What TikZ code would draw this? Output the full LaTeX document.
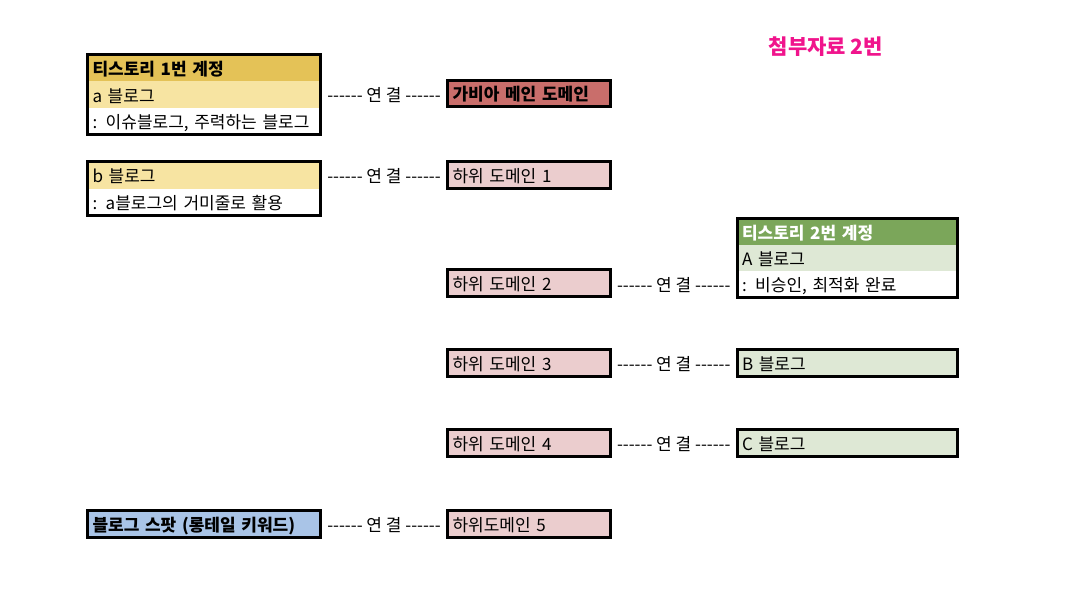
\documentclass[tikz,border=0pt]{standalone}
\usepackage{fontspec}
\setmainfont{Noto Sans CJK KR}[Ligatures=TeXOff]
\usepackage{tikz}

\definecolor{hdrgold}{HTML}{E4C257}
\definecolor{rowgold}{HTML}{F7E4A2}
\definecolor{mainred}{HTML}{C96E6B}
\definecolor{subpink}{HTML}{EBCDCE}
\definecolor{hdrgreen}{HTML}{7BA65A}
\definecolor{rowgreen}{HTML}{DEE8D5}
\definecolor{spotblue}{HTML}{A9C4E7}
\definecolor{titlepink}{HTML}{F0148C}

\begin{document}
\begin{tikzpicture}[x=1pt, y=-1pt,
        cell/.style={anchor=north west, inner xsep=5pt, inner ysep=0pt, outer sep=0pt,
            text height=15pt, text depth=0pt, font=\fontsize{17}{20}\selectfont},
        wide/.style={cell, text width=223pt},
        mid/.style={cell, text width=153pt},
        right/.style={cell, text width=210pt},
        frame/.style={line width=3pt},
        link/.style={font=\fontsize{17}{20}\selectfont, inner sep=0pt, text height=15pt, text depth=0pt}]
                \useasboundingbox (0, 0) rectangle (1074, 599);

                \node[text=titlepink, font=\fontsize{21}{25}\selectfont\bfseries] (title) at (826, 47) {첨부자료 2번};

                % left column
                \node[wide, fill=hdrgold, minimum height=27pt, font=\fontsize{17}{20}\selectfont\bfseries] (t1head) at (87.5, 54.5) {티스토리 1번 계정};
                \node[wide, fill=rowgold, minimum height=26.5pt] (t1a) at (87.5, 81.5) {a 블로그};
                \node[wide, fill=white, minimum height=26.5pt] (t1anote) at (87.5, 108) {: 이슈블로그, 주력하는 블로그};
                \draw[frame] (t1head.north west) rectangle (t1anote.south east);

                \node[wide, fill=rowgold, minimum height=27.5pt] (t1b) at (87.5, 161.5) {b 블로그};
                \node[wide, fill=white, minimum height=26.5pt] (t1bnote) at (87.5, 189) {: a블로그의 거미줄로 활용};
                \draw[frame] (t1b.north west) rectangle (t1bnote.south east);

                \node[wide, fill=spotblue, minimum height=27pt, font=\fontsize{17}{20}\selectfont\bfseries] (spot) at (87.5, 510.5) {블로그 스팟 (롱테일 키워드)};
                \draw[frame] (spot.north west) rectangle (spot.south east);

                % domains
                \node[mid, fill=mainred, minimum height=26pt, font=\fontsize{17}{20}\selectfont\bfseries] (gabia) at (447.5, 80.5) {가비아 메인 도메인};
                \node[mid, fill=subpink, minimum height=27pt] (sub1) at (447.5, 161.5) {하위 도메인 1};
                \node[mid, fill=subpink, minimum height=27pt] (sub2) at (447.5, 269.5) {하위 도메인 2};
                \node[mid, fill=subpink, minimum height=27pt] (sub3) at (447.5, 349.5) {하위 도메인 3};
                \node[mid, fill=subpink, minimum height=27pt] (sub4) at (447.5, 429.5) {하위 도메인 4};
                \node[mid, fill=subpink, minimum height=27pt] (sub5) at (447.5, 510.5) {하위도메인 5};
                \foreach \d in {gabia, sub1, sub2, sub3, sub4, sub5}
                    \draw[frame] (\d.north west) rectangle (\d.south east);

                % right column
                \node[right, fill=hdrgreen, minimum height=27pt, text=white, font=\fontsize{17}{20}\selectfont\bfseries] (t2head) at (737, 218) {티스토리 2번 계정};
                \node[right, fill=rowgreen, minimum height=26pt] (t2a) at (737, 245) {A 블로그};
                \node[right, fill=white, minimum height=26.5pt] (t2anote) at (737, 271) {: 비승인, 최적화 완료};
                \draw[frame] (t2head.north west) rectangle (t2anote.south east);

                \node[right, fill=rowgreen, minimum height=27pt] (t2b) at (737, 349.5) {B 블로그};
                \node[right, fill=rowgreen, minimum height=27pt] (t2c) at (737, 429.5) {C 블로그};
                \draw[frame] (t2b.north west) rectangle (t2b.south east);
                \draw[frame] (t2c.north west) rectangle (t2c.south east);

                % links
                \path (t1a.east) -- node[link]{------ 연 결 ------} (gabia.west);
                \path (t1b.east) -- node[link]{------ 연 결 ------} (sub1.west);
                \path (spot.east) -- node[link]{------ 연 결 ------} (sub5.west);
                \path (sub2.east) -- node[link]{------ 연 결 ------} (t2anote.west);
                \path (sub3.east) -- node[link]{------ 연 결 ------} (t2b.west);
                \path (sub4.east) -- node[link]{------ 연 결 ------} (t2c.west);
            \end{tikzpicture}
\end{document}
